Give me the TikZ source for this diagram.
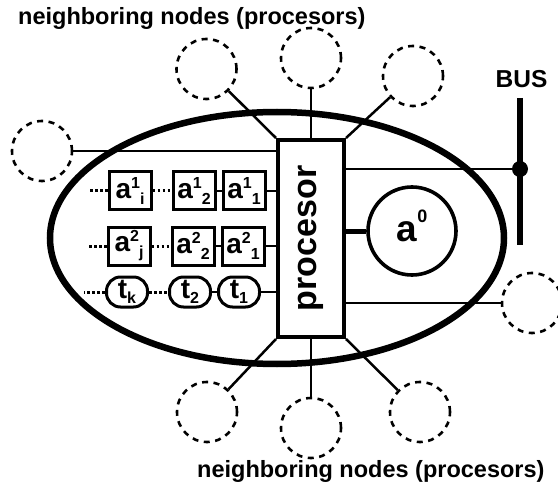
\documentclass[tikz,border=0pt]{standalone}
\usepackage{fontspec}
\setmainfont{Liberation Sans}
\usetikzlibrary{calc}

\newcommand{\cellsym}[3]{{\fontsize{28}{28}\selectfont #1}\raisebox{10pt}{\fontsize{16}{16}\selectfont #2}\raisebox{-6pt}{\fontsize{16}{16}\selectfont #3}}
\newcommand{\toksym}[2]{{\fontsize{28}{28}\selectfont #1}\raisebox{-5pt}{\fontsize{16}{16}\selectfont #2}}

\tikzset{
 neighbor/.style={circle, draw, line width=2.6pt, dash pattern=on 6pt off 5.5pt, minimum size=60pt, inner sep=0pt},
 cell/.style={draw, line width=3pt, minimum width=42pt, minimum height=38pt, inner sep=0pt},
 token/.style={draw, line width=3pt, rounded corners=14pt, minimum width=41pt, minimum height=30pt, inner sep=0pt},
 link/.style={line width=2.5pt},
 chain/.style={line width=3pt, dash pattern=on 2.8pt off 2.2pt},
}

\begin{document}
\begin{tikzpicture}[x=1pt, y=-1pt, font=\bfseries]
\useasboundingbox (0,0) rectangle (558,487);
% node with its memory
\draw[line width=6.5pt] (277,238) ellipse [x radius=227pt, y radius=126pt];
\node[draw, fill=white, line width=4pt, minimum width=66pt, minimum height=197pt, inner sep=0pt, font=\bfseries\fontsize{34}{34}\selectfont] (proc) at (311,238.5) {\rotatebox{90}{procesor}};
\node[circle, draw, line width=3.6pt, minimum size=88pt, inner sep=0pt, text depth=11pt] (a0) at (412,231) {{\fontsize{37}{37}\selectfont a}\raisebox{19pt}{\fontsize{18}{18}\selectfont 0}};
\draw[line width=5pt] (proc.east |- a0) -- (a0);

% queues
\node[cell] (a1i) at (130,191) {\cellsym{a}{1}{i}};
\node[cell] (a12) at (194,191) {\cellsym{a}{1}{2}};
\node[cell] (a11) at (244,191) {\cellsym{a}{1}{1}};
\node[cell] (a2j) at (129,246) {\cellsym{a}{2}{j}};
\node[cell] (a22) at (193,246) {\cellsym{a}{2}{2}};
\node[cell] (a21) at (243,246) {\cellsym{a}{2}{1}};
\node[token] (tk) at (127,292) {\toksym{t}{k}};
\node[token] (t2) at (190,292) {\toksym{t}{2}};
\node[token] (t1) at (239,292) {\toksym{t}{1}};
\coordinate (e1) at (88,191);
\coordinate (e2) at (88,246);
\coordinate (e3) at (84,292);
\foreach \first/\mid/\last/\e in {a1i/a12/a11/e1, a2j/a22/a21/e2, tk/t2/t1/e3} {
 \draw[link] (\last) -- (\last -| proc.west);
 \draw[link] (\mid) -- (\last);
 \draw[chain] (\first) -- (\mid);
 \draw[chain] (\first) -- (\e);
}

% neighbors
\foreach \n/\x/\y/\a in {nt1/206.5/69/north west, nt2/311/58/north, nt3/413/76/north east, nb1/207/412/south west, nb2/311/428/south, nb3/420/412/south east} {
 \node[neighbor] (\n) at (\x,\y) {};
 \draw[link] (\n) -- (proc.\a);
}
\node[neighbor] (nl) at (42,151) {};
\draw[link] (nl) -- (nl -| proc.west);
\node[neighbor] (nr) at (532,303) {};
\draw[link] (proc.east |- nr) -- (nr);

% bus
\coordinate (bustop) at (520,98);
\coordinate (busbot) at (520,245);
\draw[line width=6pt] (bustop) -- (busbot);
\node[circle, fill, minimum size=16pt, inner sep=0pt] (tap) at (520,169) {};
\draw[link] (proc.east |- tap) -- (tap);
\node[font=\bfseries\fontsize{24.5}{24.5}\selectfont, anchor=base] (buslabel) at (521.5,88) {BUS};

\node[font=\bfseries\fontsize{23.5}{23.5}\selectfont, anchor=base west, inner sep=0pt] (toplabel) at (18,25) {neighboring nodes (procesors)};
\node[font=\bfseries\fontsize{23.5}{23.5}\selectfont, anchor=base west, inner sep=0pt] (botlabel) at (197,477) {neighboring nodes (procesors)};
\end{tikzpicture}
\end{document}
